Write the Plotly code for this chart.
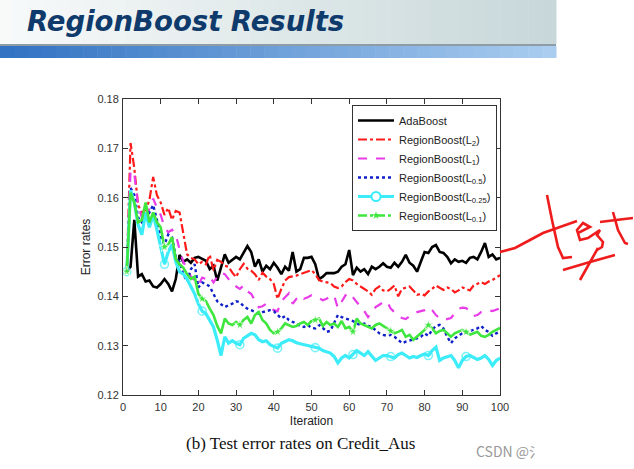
import plotly.graph_objects as go

iterations = list(range(1, 101))

adaboost = [
    0.145, 0.146, 0.1555, 0.144, 0.1445, 0.143, 0.1432, 0.142, 0.1418, 0.1425,
    0.1435, 0.1425, 0.141, 0.1435, 0.1484, 0.147, 0.1475, 0.1468, 0.1478, 0.148,
    0.1476, 0.1472, 0.1455, 0.1462, 0.1432, 0.146, 0.1485, 0.1468, 0.1475, 0.148,
    0.1475, 0.149, 0.1502, 0.149, 0.146, 0.1475, 0.145, 0.1462, 0.1455, 0.1468,
    0.1458, 0.1445, 0.146, 0.1452, 0.149, 0.145, 0.1455, 0.1478, 0.1478, 0.148,
    0.1465, 0.1435, 0.144, 0.1447, 0.1447, 0.1447, 0.145, 0.146, 0.1465, 0.1494,
    0.1443, 0.1458, 0.145, 0.1455, 0.1445, 0.146, 0.1455, 0.146, 0.1467, 0.146,
    0.1458, 0.1468, 0.146, 0.147, 0.1484, 0.1468, 0.1462, 0.145, 0.147, 0.149,
    0.1488, 0.15, 0.1504, 0.149, 0.1488, 0.148, 0.1467, 0.1475, 0.147, 0.1472,
    0.1468, 0.1478, 0.148, 0.1475, 0.149, 0.1508, 0.148, 0.1485, 0.1475, 0.1478,
]

region_l2 = [
    0.145, 0.1711, 0.166, 0.1585, 0.157, 0.1575, 0.1595, 0.1642, 0.1605, 0.159,
    0.1565, 0.1579, 0.1555, 0.1573, 0.157, 0.1525, 0.1485, 0.1478, 0.1475, 0.1465,
    0.147, 0.1465, 0.1484, 0.1453, 0.1474, 0.147, 0.1462, 0.146, 0.1448, 0.1439,
    0.1455, 0.1466, 0.1456, 0.1452, 0.1445, 0.1433, 0.1448, 0.144, 0.1435, 0.1425,
    0.1395, 0.1415, 0.1432, 0.1439, 0.144, 0.1442, 0.1445, 0.1448, 0.145, 0.1453,
    0.1445, 0.1433, 0.143, 0.1428, 0.1427, 0.142, 0.1417, 0.142, 0.1429, 0.1435,
    0.1432, 0.1425, 0.142, 0.1415, 0.141, 0.1403, 0.1415, 0.142, 0.1412, 0.141,
    0.1415, 0.1422, 0.14, 0.1415, 0.1418, 0.142, 0.1412, 0.1403, 0.1405, 0.1402,
    0.141, 0.1415, 0.1422, 0.1418, 0.1413, 0.1418, 0.1415, 0.1408, 0.1412, 0.1418,
    0.1415, 0.1412, 0.1422, 0.1425, 0.1429, 0.1425, 0.143, 0.1433, 0.1438, 0.1443,
]

region_l1 = [
    0.145, 0.1655, 0.1648, 0.1585, 0.156, 0.155, 0.1578, 0.1598, 0.158, 0.1565,
    0.154, 0.153, 0.1535, 0.1525, 0.1495, 0.147, 0.1455, 0.144, 0.1432, 0.1423,
    0.1438, 0.1435, 0.144, 0.1428, 0.144, 0.1448, 0.1445, 0.1435, 0.1425, 0.142,
    0.1415, 0.1422, 0.141, 0.1405, 0.139, 0.1378, 0.138, 0.1385, 0.1378, 0.1372,
    0.137, 0.139, 0.1398, 0.1406, 0.1385, 0.1395, 0.1402, 0.1395, 0.1398, 0.1402,
    0.1398, 0.1396, 0.1392, 0.1395, 0.14, 0.1402, 0.1376, 0.139, 0.1402, 0.1407,
    0.1398, 0.139, 0.138, 0.137, 0.1358, 0.1368, 0.1378, 0.1383, 0.1388, 0.139,
    0.1375, 0.1368, 0.136, 0.1356, 0.1354, 0.136, 0.1365, 0.1368, 0.137, 0.1372,
    0.1378, 0.1372, 0.1362, 0.1356, 0.1352, 0.1354, 0.1356, 0.1365, 0.1375, 0.1377,
    0.1376, 0.137, 0.136, 0.1362, 0.1368, 0.137, 0.1372, 0.137, 0.1373, 0.1376,
]

region_l05 = [
    0.145, 0.162, 0.1605, 0.156, 0.155, 0.1555, 0.157, 0.1585, 0.1555, 0.152,
    0.1505, 0.1525, 0.152, 0.148, 0.147, 0.1445, 0.143, 0.1455, 0.1465, 0.1418,
    0.1428, 0.1425, 0.142, 0.1406, 0.139, 0.1384, 0.1378, 0.1382, 0.1385, 0.139,
    0.1388, 0.138, 0.1375, 0.1372, 0.1368, 0.1365, 0.1368, 0.137, 0.1372, 0.137,
    0.1362, 0.1355, 0.136, 0.1352, 0.1348, 0.1345, 0.134, 0.1338, 0.1342, 0.1336,
    0.1335, 0.1342, 0.1336, 0.1328, 0.133, 0.1345, 0.1362, 0.1358, 0.1355, 0.1353,
    0.135, 0.1345, 0.1342, 0.1345, 0.134, 0.1338, 0.1332, 0.1325, 0.1322, 0.132,
    0.1322, 0.1318, 0.1312, 0.1305, 0.1308, 0.131, 0.1312, 0.1315, 0.1318, 0.1325,
    0.132, 0.1332, 0.134, 0.1342, 0.1335, 0.1318, 0.1305, 0.1315, 0.132, 0.1325,
    0.1326, 0.133, 0.1332, 0.1335, 0.134, 0.1332, 0.1328, 0.132, 0.1325, 0.1328,
]

region_l025 = [
    0.145, 0.1615, 0.159, 0.1545, 0.1525, 0.157, 0.154, 0.1565, 0.1535, 0.15,
    0.1465, 0.149, 0.1505, 0.147, 0.145, 0.1445, 0.1435, 0.142, 0.1405, 0.1385,
    0.137, 0.1365, 0.135, 0.1338, 0.1311, 0.128, 0.1318, 0.1305, 0.131, 0.1305,
    0.1302, 0.1315, 0.132, 0.1325, 0.1322, 0.1312, 0.1308, 0.131, 0.1302, 0.1298,
    0.1295, 0.1305, 0.1308, 0.1312, 0.131, 0.1306, 0.1304, 0.1302, 0.13, 0.1298,
    0.1296, 0.1295, 0.129, 0.1287, 0.1285, 0.1278, 0.1265, 0.1275, 0.128, 0.1275,
    0.1282, 0.129, 0.1285, 0.128, 0.1288, 0.128, 0.127, 0.1275, 0.128, 0.128,
    0.1278, 0.1275, 0.1282, 0.1285, 0.128, 0.1275, 0.1278, 0.1276, 0.128, 0.1283,
    0.128, 0.129, 0.1297, 0.127, 0.1275, 0.1278, 0.128, 0.127, 0.1255, 0.127,
    0.1278, 0.128, 0.1276, 0.1272, 0.1275, 0.128, 0.1272, 0.126, 0.127, 0.1275,
]

region_l01 = [
    0.145, 0.161, 0.159, 0.155, 0.1555, 0.159, 0.155, 0.157, 0.155, 0.154,
    0.15, 0.1505, 0.152, 0.1475, 0.1465, 0.1458, 0.1445, 0.1435, 0.144, 0.1405,
    0.1395, 0.139, 0.1375, 0.1362, 0.134, 0.1325, 0.1355, 0.1345, 0.1342, 0.1348,
    0.1342, 0.1352, 0.1358, 0.1345, 0.1362, 0.1368, 0.1352, 0.1345, 0.1332, 0.1325,
    0.1328, 0.1335, 0.1345, 0.1342, 0.1338, 0.134, 0.1345, 0.1348, 0.1342, 0.135,
    0.1352, 0.1355, 0.134, 0.1348, 0.1342, 0.1345, 0.1338, 0.135, 0.1335, 0.1338,
    0.1328, 0.1355, 0.1345, 0.1342, 0.1338, 0.1335, 0.1342, 0.1345, 0.134, 0.1335,
    0.133, 0.1325, 0.1328, 0.1332, 0.1318, 0.1322, 0.1312, 0.1318, 0.1325, 0.1332,
    0.1342, 0.1335, 0.1325, 0.133, 0.1332, 0.1325, 0.1318, 0.1325, 0.1328, 0.1332,
    0.1328, 0.1322, 0.1325, 0.1328, 0.132, 0.1318, 0.1322, 0.1328, 0.1332, 0.1336,
]

series_names = [
    "AdaBoost",
    "RegionBoost(L<sub>2</sub>)",
    "RegionBoost(L<sub>1</sub>)",
    "RegionBoost(L<sub>0.5</sub>)",
    "RegionBoost(L<sub>0.25</sub>)",
    "RegionBoost(L<sub>0.1</sub>)",
]
x_ticks = [0, 10, 20, 30, 40, 50, 60, 70, 80, 90, 100]
y_ticks = [0.12, 0.13, 0.14, 0.15, 0.16, 0.17, 0.18]

W, H = 634, 469
L, R, T, B = 123, 134, 99, 74
PW, PH = W - L - R, H - T - B


def px(x):
    return (x - L) / PW


def py(y):
    return (H - B - y) / PH


fig = go.Figure()

marker_every = [8 if (i - 1) % 10 == 0 else 0 for i in iterations]

styles = [
    dict(color="#000000", width=2.6, dash="solid"),
    dict(color="#ff1a1a", width=2.2, dash="dashdot"),
    dict(color="#e83ce8", width=2.2, dash="dash"),
    dict(color="#1020c8", width=2.4, dash="dot"),
    dict(color="#3cecf8", width=3.2, dash="solid"),
    dict(color="#3ee63e", width=2.6, dash="solid"),
]
data_sets = [adaboost, region_l2, region_l1, region_l05, region_l025, region_l01]

for k, (name, vals, st) in enumerate(zip(series_names, data_sets, styles)):
    if k == 4:
        fig.add_trace(go.Scatter(
            x=iterations, y=vals, mode="lines+markers", name=name, showlegend=False,
            line=st,
            marker=dict(symbol="circle-open", size=marker_every, color=st["color"],
                        line=dict(width=1.6, color=st["color"])),
        ))
    elif k == 5:
        fig.add_trace(go.Scatter(
            x=iterations, y=vals, mode="lines+markers", name=name, showlegend=False,
            line=st,
            marker=dict(symbol="star", size=marker_every, color=st["color"]),
        ))
    else:
        fig.add_trace(go.Scatter(
            x=iterations, y=vals, mode="lines", name=name, showlegend=False, line=st,
        ))

# legend entries
for k, (name, st) in enumerate(zip(series_names, styles)):
    lst = dict(st)
    if k == 5:
        lst["dash"] = "dashdot"
    mode = "lines"
    mk = None
    if k == 4:
        mode = "lines+markers"
        mk = dict(symbol="circle", size=9, color="white", line=dict(width=2, color=st["color"]))
    if k == 5:
        mode = "lines+markers"
        mk = dict(symbol="star", size=6, color=st["color"])
    fig.add_trace(go.Scatter(x=[None], y=[None], mode=mode, name=name, line=lst,
                             marker=mk, showlegend=True))

# header band gradient
shapes = []
n_strips = 40
band_right = 556
for i in range(n_strips):
    x0 = band_right * i / n_strips
    x1 = band_right * (i + 1) / n_strips + 0.5
    t = i / (n_strips - 1)
    c_top = (int(248 - 48 * t), int(250 - 34 * t), int(250 - 32 * t))
    c_bar = (int(50 + 120 * t), int(115 + 90 * t), int(195 + 45 * t))
    shapes.append(dict(type="rect", xref="paper", yref="paper", x0=px(x0), x1=px(x1),
                       y0=py(44), y1=py(0), line=dict(width=0),
                       fillcolor="rgb(%d,%d,%d)" % c_top, layer="below"))
    shapes.append(dict(type="rect", xref="paper", yref="paper", x0=px(x0), x1=px(x1),
                       y0=py(58), y1=py(46), line=dict(width=0),
                       fillcolor="rgb(%d,%d,%d)" % c_bar, layer="below"))
shapes.append(dict(type="rect", xref="paper", yref="paper", x0=px(0), x1=px(band_right),
                   y0=py(46), y1=py(44), line=dict(width=0), fillcolor="#8e9ca6",
                   layer="below"))

# handwritten "test" strokes
strokes = [
    [(500, 252), (515, 248), (530, 240), (543, 233), (560, 227), (577, 221)],
    [(547, 195), (552, 220), (558, 247), (563, 258), (572, 257)],
    [(578, 233), (590, 227), (583, 223), (577, 230), (580, 240), (588, 238),
     (600, 230), (597, 235), (603, 242), (602, 247), (597, 250)],
    [(613, 212), (618, 230), (625, 243), (628, 244)],
    [(600, 222), (616, 220), (633, 218)],
    [(563, 270), (590, 262), (615, 255)],
    [(580, 280), (589, 264), (598, 248)],
]
for s in strokes:
    path = "M %f,%f " % (px(s[0][0]), py(s[0][1]))
    path += " ".join("L %f,%f" % (px(a), py(b)) for a, b in s[1:])
    shapes.append(dict(type="path", xref="paper", yref="paper", path=path,
                       line=dict(color="#ee1c1c", width=2.6)))

annotations = [
    dict(text="<b><i>RegionBoost Results</i></b>", xref="paper", yref="paper",
         x=px(25), y=py(21), xanchor="left", yanchor="middle", showarrow=False,
         font=dict(family="DejaVu Sans", size=27.5, color="#0f3a6c")),
    dict(text="(b) Test error rates on Credit_Aus", xref="paper", yref="paper",
         x=px(300), y=py(443), xanchor="center", yanchor="middle", showarrow=False,
         font=dict(family="Liberation Serif", size=17, color="#111111")),
    dict(text="CSDN @氵", xref="paper", yref="paper",
         x=px(474), y=py(451), xanchor="left", yanchor="middle", showarrow=False,
         font=dict(family="Noto Sans CJK SC", size=14, color="#9a9a9a")),
]

axis_font = dict(family="Liberation Sans", size=11, color="#333333")

fig.update_layout(
    width=W, height=H,
    margin=dict(l=L, r=R, t=T, b=B, pad=0),
    paper_bgcolor="white", plot_bgcolor="white",
    shapes=shapes, annotations=annotations,
    xaxis=dict(range=[0, 100], tickvals=x_ticks, ticks="inside", ticklen=5,
               tickcolor="#333", showline=True, linecolor="#333", linewidth=1,
               mirror="ticks", showgrid=False, zeroline=False, tickfont=axis_font,
               ticklabelstandoff=2,
               title=dict(text="Iteration", font=dict(family="Liberation Sans", size=12,
                                                       color="#222"), standoff=4)),
    yaxis=dict(range=[0.12, 0.18], tickvals=y_ticks, tickformat=".2f", ticks="inside",
               ticklen=5, tickcolor="#333", showline=True, linecolor="#333", linewidth=1,
               mirror="ticks", showgrid=False, zeroline=False, tickfont=axis_font,
               ticklabelstandoff=1,
               title=dict(text="Error rates", font=dict(family="Liberation Sans", size=12,
                                                         color="#222"), standoff=4)),
    legend=dict(x=px(497), y=py(105), xanchor="right", yanchor="top",
                bgcolor="white", bordercolor="#333", borderwidth=1,
                font=dict(family="Liberation Sans", size=11, color="#222"),
                tracegroupgap=0, itemwidth=36),
    showlegend=True,
)

fig.write_html("out.html", post_script="document.body.style.margin='0px';",
               config={"displayModeBar": False})
